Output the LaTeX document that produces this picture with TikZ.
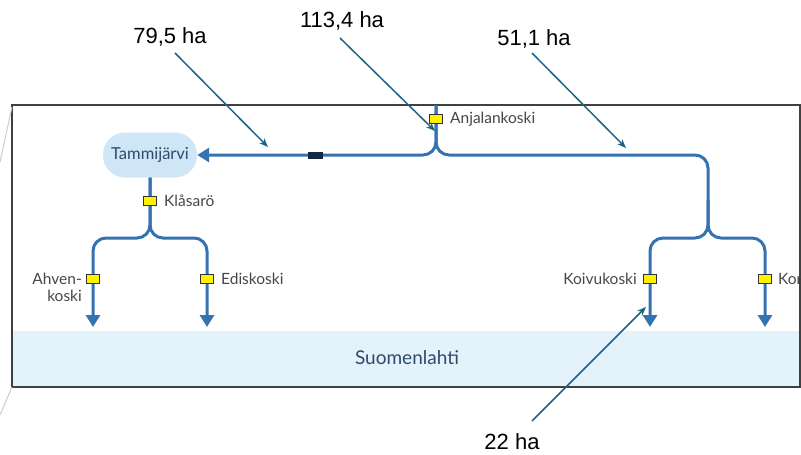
\documentclass[tikz,border=0pt]{standalone}
\usepackage{fontspec}
\setmainfont{Lato}
\newfontfamily\halabel{Liberation Sans}
\usetikzlibrary{arrows.meta}
\definecolor{joki}{RGB}{53,114,176}
\definecolor{meri}{RGB}{227,242,251}
\definecolor{jarvi}{RGB}{207,230,247}
\definecolor{nuoli}{RGB}{27,100,136}
\definecolor{nimi}{RGB}{47,74,107}
\definecolor{teksti}{RGB}{70,70,70}
\definecolor{pato}{RGB}{20,40,70}

\begin{document}
\begin{tikzpicture}[x=1pt,y=-1pt,
	river/.style={joki, line width=3pt, rounded corners=13pt},
	outlet/.style={river, -{Triangle[width=14pt,length=12pt]}},
	gauge/.style={draw=black!80, fill=yellow, line width=1pt, minimum width=13pt, minimum height=9pt, inner sep=0pt},
	place/.style={text=teksti, font=\fontsize{15.5}{17}\selectfont, inner sep=0pt},
	area/.style={font=\halabel\fontsize{22}{24}\selectfont},
	pointer/.style={nuoli, line width=1.5pt, -{Stealth[length=9pt,width=7pt]}}]
	\useasboundingbox (0,0) rectangle (801,455);
	\fill[meri] (12,331) rectangle (800,387);
	\draw[black!75, line width=1.2pt] (12,105) rectangle (800,387);
	\draw[black!20, line width=1pt] (12,107) -- (0,162);
	\draw[black!20, line width=1pt] (12,387) -- (0,415);
	\node[text=nimi, font=\fontsize{19}{21}\selectfont] (S) at (407,358) {Suomenlahti};
	\node[fill=jarvi, rounded corners=22pt, minimum width=94pt, minimum height=45pt, text=nimi, font=\fontsize{16.5}{18}\selectfont] (T) at (150,155) {Tammijärvi};
		% Anjalankoski -> Tammijarvi / itahaara
		\coordinate (A0) at (436,105);
		\coordinate (A1) at (436,155);
		\coordinate (J1) at (708,155);
		\coordinate (J2) at (708,238);
		\draw[outlet] (A0) -- (A1) -- (T.east);
		\draw[river] (A0) -- (A1) -- (J1) -- (708,200);
		\draw[outlet] (708,200) -- (J2) -- (650,238) -- (650,327);
		\draw[outlet] (708,200) -- (J2) -- (765,238) -- (765,327);
		\node[fill=pato, minimum width=15pt, minimum height=7pt, inner sep=0pt] (P) at (315,155) {};
		% Tammijarvi -> lansihaara
		\coordinate (K1) at (150,238);
		\draw[outlet] (T.south) -- (K1) -- (93,238) -- (93,327);
		\draw[outlet] (T.south) -- (K1) -- (207,238) -- (207,327);
		\node[gauge] (G1) at (436,119) {};
		\node[place, anchor=west] at (450,119) {Anjalankoski};
		\node[gauge] (G2) at (150,201) {};
		\node[place, anchor=west] at (164,201) {Klåsarö};
		\node[gauge] (G3) at (93,279) {};
		\node[place, anchor=east, align=right] at (82,287) {Ahven-\\koski};
		\node[gauge] (G4) at (207,279) {};
		\node[place, anchor=west] at (221,279) {Ediskoski};
		\node[gauge] (G5) at (650,279) {};
		\node[place, anchor=east] at (637,279) {Koivukoski};
		\node[gauge] (G6) at (765,279) {};
		\node[place, anchor=west] at (778,279) {Kor};
		% pinta-alat
		\node[area] (H1) at (170,37) {79,5 ha};
		\node[area] (H2) at (342,21) {113,4 ha};
		\node[area] (H3) at (534,39) {51,1 ha};
		\node[area] (H4) at (512,442) {22 ha};
		\coordinate (N1) at (268,147);
		\coordinate (N2) at (435,131);
		\coordinate (N3) at (626,148);
		\coordinate (N4) at (646,307);
		\draw[pointer] (175,53) -- (N1);
		\draw[pointer] (340,38) -- (N2);
		\draw[pointer] (532,53) -- (N3);
		\draw[pointer] (532,421) -- (N4);
\end{tikzpicture}
\end{document}
